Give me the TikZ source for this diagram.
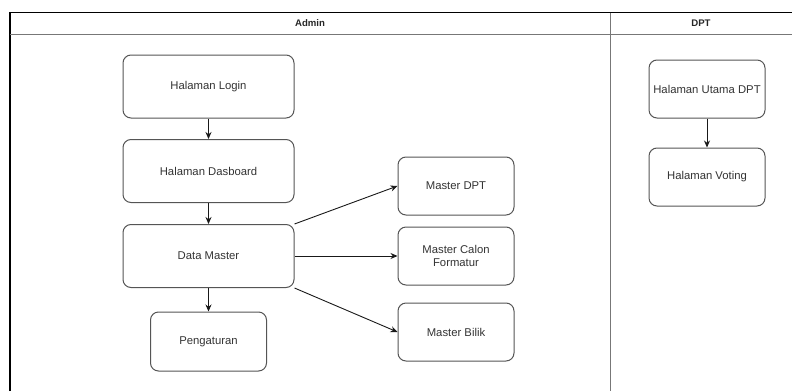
\documentclass[tikz,border=0pt]{standalone}
\usepackage{fontspec}
\setmainfont{Liberation Sans}
\usetikzlibrary{arrows.meta}
\definecolor{boxline}{HTML}{555555}
\definecolor{laneline}{HTML}{777777}
\tikzset{
  pagebox/.style={draw=boxline, line width=1pt, rounded corners=8pt, fill=white,
    align=center, font=\fontsize{11.3}{13.5}\selectfont, text=black!80, inner sep=0pt},
  flow/.style={draw=black!90, line width=0.9pt, -{Stealth[length=7pt,width=6pt]}},
  lanetitle/.style={font=\bfseries\fontsize{9.6}{11}\selectfont, text=black!85}
}
\begin{document}
\begin{tikzpicture}[x=1pt,y=-1pt]
\useasboundingbox (0,0) rectangle (792,391);
% swimlane frame
\draw[black, line width=1.3pt] (10,391) -- (10,12.5) -- (792,12.5);
\draw[laneline, line width=1pt] (10,34.5) -- (792,34.5);
\draw[laneline, line width=1.3pt] (610.5,12.5) -- (610.5,391);
\node[lanetitle] (admin) at (310,23.5) {Admin};
\node[lanetitle] (dpt) at (701,23.5) {DPT};

% Admin pages
\node[pagebox, minimum width=171pt, minimum height=63pt] (login) at (208.5,86.5) {Halaman Login};
\node[pagebox, minimum width=171pt, minimum height=63pt] (dash) at (208.5,171) {Halaman Dasboard};
\node[pagebox, minimum width=171pt, minimum height=63pt] (master) at (208.5,256) {Data Master};
\node[pagebox, minimum width=116pt, minimum height=59pt] (atur) at (208.5,341.5) {Pengaturan};
\node[pagebox, minimum width=116pt, minimum height=58pt] (mdpt) at (456,186) {Master DPT};
\node[pagebox, minimum width=116pt, minimum height=58pt] (mcalon) at (456,256) {Master Calon\\Formatur};
\node[pagebox, minimum width=116pt, minimum height=58pt] (mbilik) at (456,332) {Master Bilik};

% DPT pages
\node[pagebox, minimum width=116pt, minimum height=58pt] (utama) at (707,89) {Halaman Utama DPT};
\node[pagebox, minimum width=116pt, minimum height=58pt] (voting) at (707,177) {Halaman Voting};

% connectors
\draw[flow] (login) -- (dash);
\draw[flow] (dash) -- (master);
\draw[flow] (master) -- (atur);
\draw[flow] (master.north east) -- (mdpt.west);
\draw[flow] (master) -- (mcalon);
\draw[flow] (master.south east) -- (mbilik.west);
\draw[flow] (utama) -- (voting);
\end{tikzpicture}
\end{document}
